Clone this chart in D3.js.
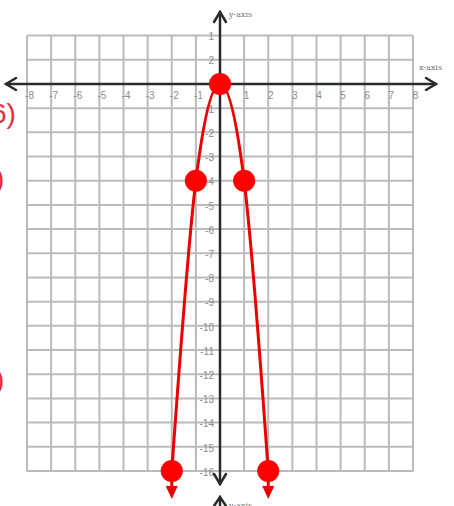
<!DOCTYPE html>
<html>
<head>
<meta charset="utf-8">
<script src="https://cdn.jsdelivr.net/npm/d3@7"></script>
<style>
  html, body { margin: 0; padding: 0; background: #fff; }
  svg { display: block; }
</style>
</head>
<body>
<svg id="chart" width="454" height="506"></svg>
<script>
// Grid extent and tick labels
const xTicks = [-8, -7, -6, -5, -4, -3, -2, -1, 1, 2, 3, 4, 5, 6, 7, 8];
const xTickLabels = ["-8", "-7", "-6", "-5", "-4", "-3", "-2", "-1", "1", "2", "3", "4", "5", "6", "7", "8"];
const yTicks = [2, 1, -1, -2, -3, -4, -5, -6, -7, -8, -9, -10, -11, -12, -13, -14, -15, -16];
const yTickLabels = ["1", "2", "-1", "-2", "-3", "-4", "-5", "-6", "-7", "-8", "-9", "-10", "-11", "-12", "-13", "-14", "-15", "-16"];
const gridX = [-8, -7, -6, -5, -4, -3, -2, -1, 0, 1, 2, 3, 4, 5, 6, 7, 8];
const gridY = [2, 1, 0, -1, -2, -3, -4, -5, -6, -7, -8, -9, -10, -11, -12, -13, -14, -15, -16];

// Plotted points of the parabola
const pointsX = [-2, -1, 0, 1, 2];
const pointsY = [-16, -4, 0, -4, -16];

const svg = d3.select("#chart");

const x = d3.scaleLinear().domain([-8, 8]).range([27, 413]);
const y = d3.scaleLinear().domain([2, -16]).range([35.6, 471]);

// Grid
const grid = svg.append("g").attr("stroke", "#bababa").attr("stroke-width", 2);
grid.selectAll("line.v").data(gridX).join("line")
  .attr("class", "v")
  .attr("x1", d => x(d)).attr("x2", d => x(d))
  .attr("y1", y(2)).attr("y2", y(-16));
grid.selectAll("line.h").data(gridY).join("line")
  .attr("class", "h")
  .attr("x1", x(-8)).attr("x2", x(8))
  .attr("y1", d => y(d)).attr("y2", d => y(d));

// Tick labels via d3 axes
const tickFont = "Liberation Sans, Arial, sans-serif";
const xAxis = d3.axisBottom(x)
  .tickValues(xTicks)
  .tickFormat((d, i) => xTickLabels[i])
  .tickSize(0).tickPadding(8);
const gx = svg.append("g").attr("transform", `translate(2,${y(0)})`).call(xAxis);
gx.select(".domain").remove();
gx.selectAll("text").attr("fill", "#8a8a8a").attr("font-size", 10).attr("font-family", tickFont);

const yAxis = d3.axisLeft(y)
  .tickValues(yTicks)
  .tickFormat((d, i) => yTickLabels[i])
  .tickSize(0).tickPadding(6);
const gy = svg.append("g").attr("transform", `translate(${x(0)},1)`).call(yAxis);
gy.select(".domain").remove();
gy.selectAll("text").attr("fill", "#8a8a8a").attr("font-size", 10).attr("font-family", tickFont);

// Axes with open arrowheads
const axisColor = "#2b2b2b";
const ax = svg.append("g").attr("stroke", axisColor).attr("stroke-width", 2.5)
  .attr("fill", "none").attr("stroke-linecap", "round");
ax.append("line").attr("x1", 6).attr("x2", 436).attr("y1", y(0)).attr("y2", y(0));
ax.append("path").attr("d", `M${16},${y(0) - 6} L6,${y(0)} L${16},${y(0) + 6}`);
ax.append("path").attr("d", `M${426},${y(0) - 6} L436,${y(0)} L${426},${y(0) + 6}`);
ax.append("line").attr("x1", x(0)).attr("x2", x(0)).attr("y1", 12).attr("y2", 484);
ax.append("path").attr("d", `M${x(0) - 6},22 L${x(0)},12 L${x(0) + 6},22`);
ax.append("path").attr("d", `M${x(0) - 6},474 L${x(0)},484 L${x(0) + 6},474`);
// next graph's axis peeking in at the bottom
ax.append("line").attr("x1", x(0)).attr("x2", x(0)).attr("y1", 497).attr("y2", 510);
ax.append("path").attr("d", `M${x(0) - 6},506 L${x(0)},497 L${x(0) + 6},506`);

const labelFont = "DejaVu Serif, serif";
svg.append("text").attr("x", 229).attr("y", 17).text("y-axis")
  .attr("font-size", 8).attr("fill", "#777").attr("font-family", labelFont);
svg.append("text").attr("x", 419).attr("y", 70).text("x-axis")
  .attr("font-size", 8).attr("fill", "#777").attr("font-family", labelFont);
svg.append("text").attr("x", 229).attr("y", 508).text("y-axis")
  .attr("font-size", 8).attr("fill", "#777").attr("font-family", labelFont);

// Parabola through the plotted points
const red = "#ea0000";
const pts = pointsX.map((d, i) => [d, pointsY[i]]);
const line = d3.line().x(d => x(d[0])).y(d => y(d[1])).curve(d3.curveMonotoneX);
svg.append("path").datum(pts).attr("d", line)
  .attr("fill", "none").attr("stroke", red).attr("stroke-width", 3);

// Arrows continuing from the end points
const ends = [pts[0], pts[pts.length - 1]];
const arr = svg.append("g");
arr.selectAll("line").data(ends).join("line")
  .attr("x1", d => x(d[0])).attr("x2", d => x(d[0]))
  .attr("y1", d => y(d[1])).attr("y2", 490)
  .attr("stroke", red).attr("stroke-width", 3);
arr.selectAll("path").data(ends).join("path")
  .attr("d", d => `M${x(d[0]) - 6},486 L${x(d[0]) + 6},486 L${x(d[0])},499 Z`)
  .attr("fill", red);

svg.append("g").selectAll("circle").data(pts).join("circle")
  .attr("cx", d => x(d[0])).attr("cy", d => y(d[1])).attr("r", 11)
  .attr("fill", "#ff0000");

// Problem numbering from the worksheet margin
const marg = svg.append("g").attr("fill", "#e0303c").attr("font-family", "Liberation Sans, Arial, sans-serif");
marg.append("text").attr("x", -9).attr("y", 123).attr("font-size", 28).text("6)");
marg.append("text").attr("x", -5).attr("y", 188).attr("font-size", 28).text(")");
marg.append("text").attr("x", -5).attr("y", 389).attr("font-size", 28).text(")");
</script>
</body>
</html>
